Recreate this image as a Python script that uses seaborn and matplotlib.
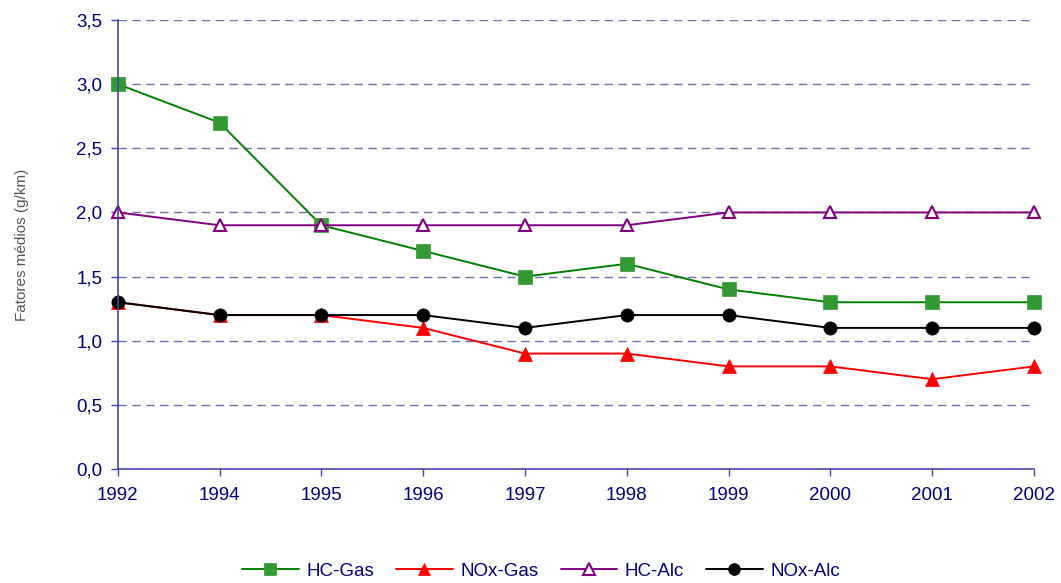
import numpy as np
import pandas as pd
import matplotlib
matplotlib.use("Agg")
import matplotlib.pyplot as plt
import seaborn as sns
from matplotlib.ticker import FuncFormatter

# data
years = ["1992", "1994", "1995", "1996", "1997", "1998", "1999", "2000", "2001", "2002"]
hc_gas = [3.0, 2.7, 1.9, 1.7, 1.5, 1.6, 1.4, 1.3, 1.3, 1.3]
nox_gas = [1.3, 1.2, 1.2, 1.1, 0.9, 0.9, 0.8, 0.8, 0.7, 0.8]
hc_alc = [2.0, 1.9, 1.9, 1.9, 1.9, 1.9, 2.0, 2.0, 2.0, 2.0]
nox_alc = [1.3, 1.2, 1.2, 1.2, 1.1, 1.2, 1.2, 1.1, 1.1, 1.1]

series = {
    "HC-Gas": hc_gas,
    "NOx-Gas": nox_gas,
    "HC-Alc": hc_alc,
    "NOx-Alc": nox_alc,
}

sns.set_style("white")
plt.rcParams['font.family'] = ['Liberation Sans', 'DejaVu Sans']

navy = "#000080"
styles = {
    "HC-Gas": dict(color="#008000", marker="s", mfc="#339933", mec="#339933", ms=9.5),
    "NOx-Gas": dict(color="#ff0000", marker="^", mfc="#ff0000", mec="#ff0000", ms=10),
    "HC-Alc": dict(color="#800080", marker="^", mfc="white", mec="#800080", ms=9, mew=1.5),
    "NOx-Alc": dict(color="black", marker="o", mfc="black", mec="black", ms=9.5),
}

fig = plt.figure(figsize=(10.61, 5.83), dpi=100)
ax = fig.add_axes([0.111, 0.1955, 0.8635, 0.7702])

x = np.arange(len(years))
for name, vals in series.items():
    df = pd.DataFrame({"x": x, "y": vals})
    st = styles[name]
    sns.lineplot(data=df, x="x", y="y", ax=ax, color=st["color"], lw=1.4,
                 marker=st["marker"], markersize=st["ms"],
                 markerfacecolor=st["mfc"], markeredgecolor=st["mec"],
                 markeredgewidth=st.get("mew", 0.5), label=name, clip_on=False)

ax.set_xlim(0, len(years) - 1)
ax.set_ylim(0, 3.5)
ax.set_xticks(x)
ax.set_xticklabels(years)
ax.set_yticks(np.arange(0, 3.51, 0.5))
ax.yaxis.set_major_formatter(FuncFormatter(lambda v, p: f"{v:.1f}".replace(".", ",")))

for yv in np.arange(0.5, 3.51, 0.5):
    ax.axhline(yv, color="#6f6fb0", lw=1, ls=(0, (6, 4)), zorder=0)

for s in ["top", "right"]:
    ax.spines[s].set_visible(False)
for s in ["left", "bottom"]:
    ax.spines[s].set_color("#4444aa")
    ax.spines[s].set_linewidth(1.2)

ax.tick_params(axis="both", colors="#4444aa", labelcolor=navy, labelsize=13.5,
               length=5, width=1, direction="out", left=True, bottom=True)
ax.tick_params(axis="x", pad=8)
ax.tick_params(axis="y", pad=6)
ax.set_xlabel("")
ax.set_ylabel("Fatores médios (g/km)", color="#555555", fontsize=11, labelpad=34)

ax.legend(loc="center", bbox_to_anchor=(0.462, -0.228), ncol=4, frameon=False,
          fontsize=13.5, labelcolor=navy, handlelength=3.0, columnspacing=1.2,
          handletextpad=0.4, markerscale=0.9)

fig.savefig("out.png", dpi=100)
